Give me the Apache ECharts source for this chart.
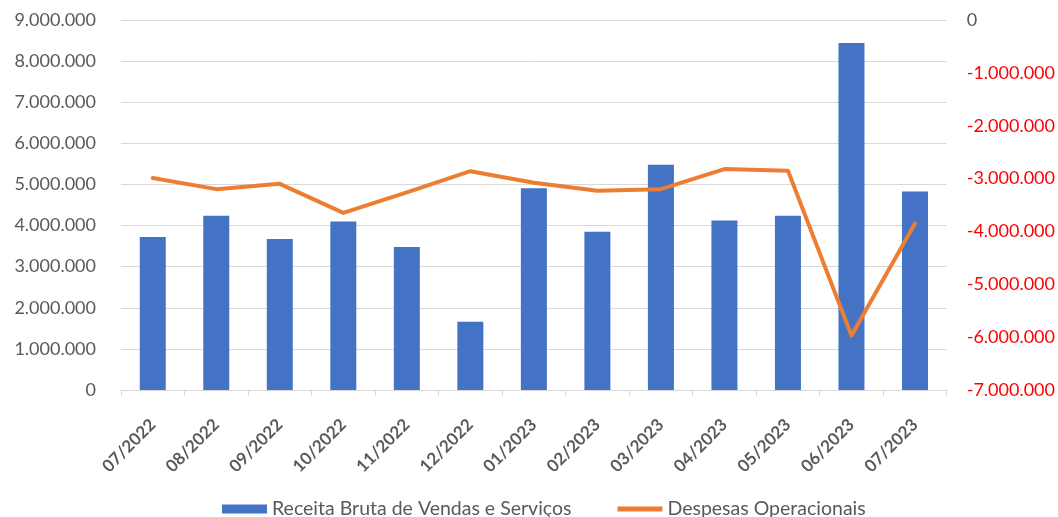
<!DOCTYPE html>
<html>
<head>
<meta charset="utf-8">
<script src="https://cdn.jsdelivr.net/npm/echarts@6/dist/echarts.min.js"></script>
<style>
  html, body { margin: 0; padding: 0; background: #fff; }
  #chart { width: 1058px; height: 517px; }
</style>
</head>
<body>
<div id="chart"></div>
<script>
// dados
const meses = ['07/2022', '08/2022', '09/2022', '10/2022', '11/2022', '12/2022',
    '01/2023', '02/2023', '03/2023', '04/2023', '05/2023', '06/2023', '07/2023'];
const receitaBruta = [3720000, 4240000, 3670000, 4100000, 3480000, 1660000,
    4910000, 3850000, 5480000, 4120000, 4240000, 8440000, 4830000];
const despesasOperacionais = [-2990000, -3200000, -3100000, -3650000, -3260000, -2860000,
    -3080000, -3230000, -3200000, -2820000, -2850000, -5970000, -3850000];

const FONT = 'Lato';

function formatBR(v) {
    const neg = v < 0;
    const s = Math.abs(Math.round(v)).toString().replace(/\B(?=(\d{3})+(?!\d))/g, '.');
    return (neg ? '-' : '') + s;
}

const chart = echarts.init(document.getElementById('chart'));

chart.setOption({
    animation: false,
    grid: { left: 121, right: 111, top: 20, bottom: 127 },
    legend: {
        top: 494,
        left: 217,
        itemGap: 46,
        itemWidth: 45,
        itemHeight: 9,
        textStyle: { fontFamily: FONT, fontSize: 19.5, color: '#595959' },
        data: [
            { name: 'Receita Bruta de Vendas e Serviços', icon: 'rect' },
            { name: 'Despesas Operacionais', icon: 'path://M0,0L44,0L44,5L0,5Z' }
        ]
    },
    xAxis: {
        type: 'category',
        data: meses,
        axisLine: { lineStyle: { color: '#d9d9d9' } },
        axisTick: { show: true, length: 6, lineStyle: { color: '#d9d9d9' } },
        axisLabel: {
            rotate: 45,
            margin: 32,
            fontFamily: FONT,
            fontSize: 17,
            fontWeight: 'bold',
            color: '#595959'
        }
    },
    yAxis: [
        {
            type: 'value',
            min: 0,
            max: 9000000,
            interval: 1000000,
            axisLine: { show: false },
            axisTick: { show: false },
            splitLine: { lineStyle: { color: '#d9d9d9' } },
            axisLabel: {
                margin: 25,
                fontFamily: FONT,
                fontSize: 18,
                color: '#595959',
                formatter: formatBR
            }
        },
        {
            type: 'value',
            min: -7000000,
            max: 0,
            interval: 1000000,
            position: 'right',
            axisLine: { show: false },
            axisTick: { show: false },
            splitLine: { show: false },
            axisLabel: {
                margin: 20,
                fontFamily: FONT,
                fontSize: 18,
                color: function (v) { return v < 0 ? '#ff0000' : '#595959'; },
                formatter: formatBR
            }
        }
    ],
    series: [
        {
            name: 'Receita Bruta de Vendas e Serviços',
            type: 'bar',
            yAxisIndex: 0,
            data: receitaBruta,
            barWidth: 26,
            itemStyle: { color: '#4472C4' }
        },
        {
            name: 'Despesas Operacionais',
            type: 'line',
            yAxisIndex: 1,
            data: despesasOperacionais,
            symbol: 'none',
            lineStyle: { color: '#ED7D31', width: 4, cap: 'round', join: 'round' },
            itemStyle: { color: '#ED7D31' }
        }
    ]
});
</script>
</body>
</html>
